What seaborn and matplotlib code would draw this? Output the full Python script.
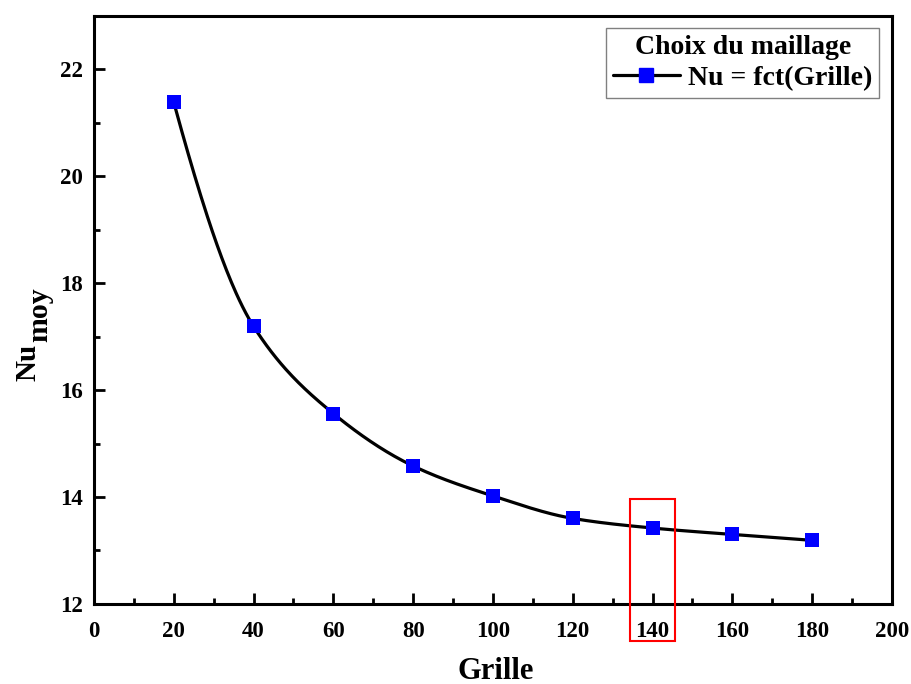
import numpy as np
import pandas as pd
import matplotlib
matplotlib.use('Agg')
import matplotlib.pyplot as plt
from matplotlib.lines import Line2D
from matplotlib.patches import Rectangle
from matplotlib.ticker import MultipleLocator
import seaborn as sns

# Data
grille = [20, 40, 60, 80, 100, 120, 140, 160, 180]
nu_moy = [21.38, 17.19, 15.56, 14.58, 14.02, 13.60, 13.42, 13.30, 13.19]
chosen_grille = 140

sns.set_style('ticks')
plt.rcParams['font.family'] = ['Liberation Serif', 'DejaVu Serif']
plt.rcParams['font.weight'] = 'bold'
for key in ['text.color', 'axes.labelcolor', 'xtick.color', 'ytick.color', 'axes.edgecolor']:
    plt.rcParams[key] = 'black'

df = pd.DataFrame({'Grille': grille, 'Nu': nu_moy})


# smooth connecting line (monotone cubic through the points, like Origin's spline connect)
def pchip(x, y, xs):
    x = np.asarray(x, float)
    y = np.asarray(y, float)
    h = np.diff(x)
    delta = np.diff(y) / h
    n = len(x)
    d = np.zeros(n)
    for k in range(1, n - 1):
        if delta[k - 1] * delta[k] > 0:
            w1 = 2 * h[k] + h[k - 1]
            w2 = h[k] + 2 * h[k - 1]
            d[k] = (w1 + w2) / (w1 / delta[k - 1] + w2 / delta[k])
    d[0] = ((2 * h[0] + h[1]) * delta[0] - h[0] * delta[1]) / (h[0] + h[1])
    if np.sign(d[0]) != np.sign(delta[0]):
        d[0] = 0
    d[-1] = ((2 * h[-1] + h[-2]) * delta[-1] - h[-1] * delta[-2]) / (h[-1] + h[-2])
    if np.sign(d[-1]) != np.sign(delta[-1]):
        d[-1] = 0
    idx = np.clip(np.searchsorted(x, xs) - 1, 0, n - 2)
    t = (xs - x[idx]) / h[idx]
    h00 = 2 * t**3 - 3 * t**2 + 1
    h10 = t**3 - 2 * t**2 + t
    h01 = -2 * t**3 + 3 * t**2
    h11 = t**3 - t**2
    return h00 * y[idx] + h10 * h[idx] * d[idx] + h01 * y[idx + 1] + h11 * h[idx] * d[idx + 1]


xs = np.linspace(grille[0], grille[-1], 400)
smooth = pd.DataFrame({'Grille': xs, 'Nu': pchip(grille, nu_moy, xs)})

fig = plt.figure(figsize=(9.11, 6.84), dpi=100)
ax = fig.add_axes([0.1032, 0.117, 0.8758, 0.860])

sns.lineplot(data=smooth, x='Grille', y='Nu', color='black', linewidth=2.3, ax=ax, zorder=2)
sns.scatterplot(data=df, x='Grille', y='Nu', marker='s', s=110, color='#0000ff',
                edgecolor='#0000ff', linewidth=0, ax=ax, zorder=3)

ax.set_xlim(0, 200)
ax.set_ylim(12, 23)
ax.xaxis.set_major_locator(MultipleLocator(20))
ax.xaxis.set_minor_locator(MultipleLocator(10))
ax.yaxis.set_major_locator(MultipleLocator(2))
ax.yaxis.set_minor_locator(MultipleLocator(1))
ax.tick_params(which='both', direction='in', width=2, top=False, right=False,
               labelsize=16.5)
ax.tick_params(axis='x', pad=12)
ax.tick_params(axis='y', pad=8)
ax.tick_params(which='major', length=8)
ax.tick_params(which='minor', length=4.5)
for lab in ax.get_xticklabels() + ax.get_yticklabels():
    lab.set_fontweight('bold')
for sp in ax.spines.values():
    sp.set_visible(True)
    sp.set_linewidth(2.2)
    sp.set_color('black')

ax.set_xlabel('Grille', fontsize=22, fontweight='bold', va='baseline')
ax.xaxis.set_label_coords(0.504, -0.127)
ax.set_ylabel('')
# y label: Nu with a full-size lowered "moy" as in the original
fig.text(35 / 911, 1 - 381 / 684, 'Nu', rotation=90, rotation_mode='anchor',
         ha='left', va='baseline', fontsize=21, fontweight='bold')
fig.text(47 / 911, 1 - 342 / 684, 'moy', rotation=90, rotation_mode='anchor',
         ha='left', va='baseline', fontsize=21.5, fontweight='bold')

# highlight of the chosen grid
rect = Rectangle((chosen_grille - 5.7, 11.3), 11.4, 2.67, fill=False,
                 edgecolor='red', linewidth=1.5, clip_on=False, zorder=4)
ax.add_patch(rect)

handle = Line2D([], [], color='black', linewidth=2.3, marker='s', markersize=10,
                markerfacecolor='#0000ff', markeredgecolor='#0000ff')
leg = ax.legend([handle], ['Nu = fct(Grille)'], title='Choix du maillage',
                loc='upper right', fontsize=20, title_fontproperties={'size': 20, 'weight': 'bold'},
                frameon=True, fancybox=False, edgecolor='gray', framealpha=1,
                handlelength=2.4, borderaxespad=0.45, borderpad=0.25, handletextpad=0.3,
                labelspacing=0.2)
leg.get_frame().set_linewidth(1.0)
for t in leg.get_texts():
    t.set_fontweight('bold')

fig.savefig('out.png', dpi=100)
